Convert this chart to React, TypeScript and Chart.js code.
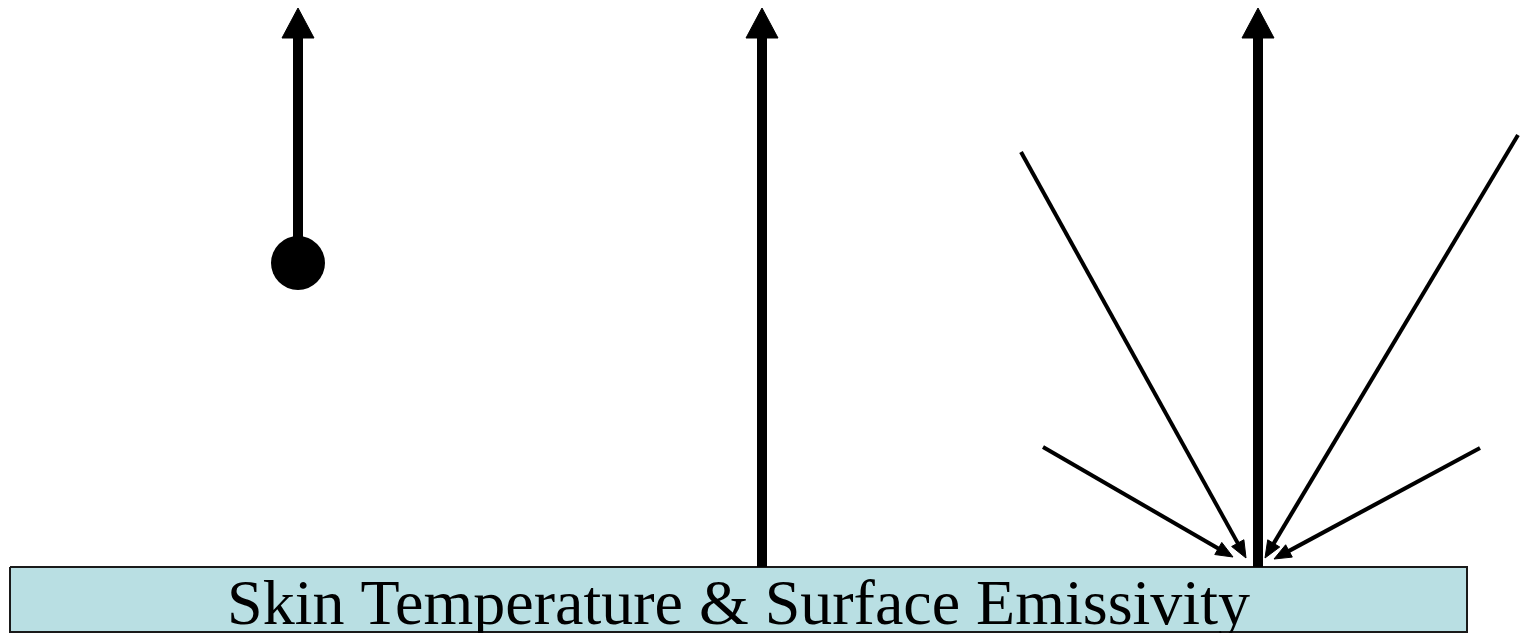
import React, { useEffect, useRef } from "react";
import { Chart, registerables } from "chart.js";

Chart.register(...registerables);

const WIDTH = 1520;
const HEIGHT = 633;

// Surface slab
const surfaceLabel = "Skin Temperature & Surface Emissivity";
const surfaceX = [10, 1467];
const surfaceY = [567, 632];

// Thick vertical arrows (x, start y, tip y)
const thickX = [298, 762, 1258];
const thickStartY = [263, 567, 567];
const thickTipY = [8, 8, 8];

// Dot at the foot of the first arrow
const dotX = [298];
const dotY = [263];

// Thin incoming arrows (start -> tip)
const thinStartX = [1021, 1518, 1043, 1480];
const thinStartY = [152, 135, 447, 448];
const thinTipX = [1246, 1265, 1233, 1274];
const thinTipY = [558, 558, 557, 559];

type P = { x: number; y: number };

function head(sx: number, sy: number, tx: number, ty: number, len: number, wid: number) {
  const dx = tx - sx;
  const dy = ty - sy;
  const d = Math.hypot(dx, dy);
  const ux = dx / d;
  const uy = dy / d;
  const bx = tx - ux * len;
  const by = ty - uy * len;
  const px = -uy;
  const py = ux;
  const tri: P[] = [
    { x: tx, y: ty },
    { x: bx + (px * wid) / 2, y: by + (py * wid) / 2 },
    { x: bx - (px * wid) / 2, y: by - (py * wid) / 2 },
    { x: tx, y: ty },
  ];
  const shaftEnd: P = { x: bx + ux * 2, y: by + uy * 2 };
  return { tri, shaftEnd };
}

export default function App() {
  const ref = useRef<HTMLCanvasElement | null>(null);

  useEffect(() => {
    if (!ref.current) return;
    const datasets: any[] = [];

    // thick arrows
    thickX.forEach((x, i) => {
      const h = head(x, thickStartY[i], x, thickTipY[i], 30, 32);
      datasets.push({
        data: [{ x, y: thickStartY[i] }, h.shaftEnd],
        borderColor: "#000",
        borderWidth: 10,
        pointRadius: 0,
        fill: false,
        borderCapStyle: "butt",
      });
      datasets.push({
        data: h.tri,
        borderColor: "#000",
        backgroundColor: "#000",
        borderWidth: 1,
        pointRadius: 0,
        fill: "shape",
      });
    });

    // thin arrows
    thinStartX.forEach((sx, i) => {
      const h = head(sx, thinStartY[i], thinTipX[i], thinTipY[i], 17, 14);
      datasets.push({
        data: [{ x: sx, y: thinStartY[i] }, h.shaftEnd],
        borderColor: "#000",
        borderWidth: 4,
        pointRadius: 0,
        fill: false,
        borderCapStyle: "butt",
      });
      datasets.push({
        data: h.tri,
        borderColor: "#000",
        backgroundColor: "#000",
        borderWidth: 1,
        pointRadius: 0,
        fill: "shape",
      });
    });

    // dot
    datasets.push({
      data: dotX.map((x, i) => ({ x, y: dotY[i] })),
      showLine: false,
      pointRadius: 27,
      pointBackgroundColor: "#000",
      pointBorderColor: "#000",
      pointBorderWidth: 0,
    });

    // surface slab
    datasets.push({
      data: [
        { x: surfaceX[0], y: surfaceY[0] },
        { x: surfaceX[1], y: surfaceY[0] },
        { x: surfaceX[1], y: surfaceY[1] },
        { x: surfaceX[0], y: surfaceY[1] },
        { x: surfaceX[0], y: surfaceY[0] },
      ],
      borderColor: "#1a1a1a",
      backgroundColor: "#B9DFE3",
      borderWidth: 2,
      pointRadius: 0,
      fill: "shape",
      borderJoinStyle: "miter",
    });

    const labelPlugin = {
      id: "surfaceLabel",
      afterDatasetsDraw(chart: any) {
        const { ctx, scales } = chart;
        const cx = scales.x.getPixelForValue((surfaceX[0] + surfaceX[1]) / 2);
        const cy = scales.y.getPixelForValue(surfaceY[1]);
        ctx.save();
        ctx.fillStyle = "#000";
        ctx.font = '64px "Liberation Serif", "Times New Roman", serif';
        ctx.textAlign = "center";
        ctx.textBaseline = "alphabetic";
        ctx.fillText(surfaceLabel, cx, cy - 8);
        ctx.restore();
      },
    };

    const chart = new Chart(ref.current, {
      type: "line",
      data: { datasets },
      options: {
        animation: false,
        responsive: false,
        devicePixelRatio: 1,
        layout: { padding: 0, autoPadding: false },
        elements: { line: { tension: 0 } },
        plugins: {
          legend: { display: false },
          tooltip: { enabled: false },
          title: { display: false },
        },
        scales: {
          x: { type: "linear", min: 0, max: WIDTH, display: false },
          y: { type: "linear", min: 0, max: HEIGHT, reverse: true, display: false },
        },
      },
      plugins: [labelPlugin],
    });
    return () => chart.destroy();
  }, []);

  return (
    <div style={{ position: "absolute", left: 0, top: 0, width: WIDTH, height: HEIGHT, background: "#fff" }}>
      <canvas ref={ref} width={WIDTH} height={HEIGHT} style={{ display: "block" }} />
    </div>
  );
}
